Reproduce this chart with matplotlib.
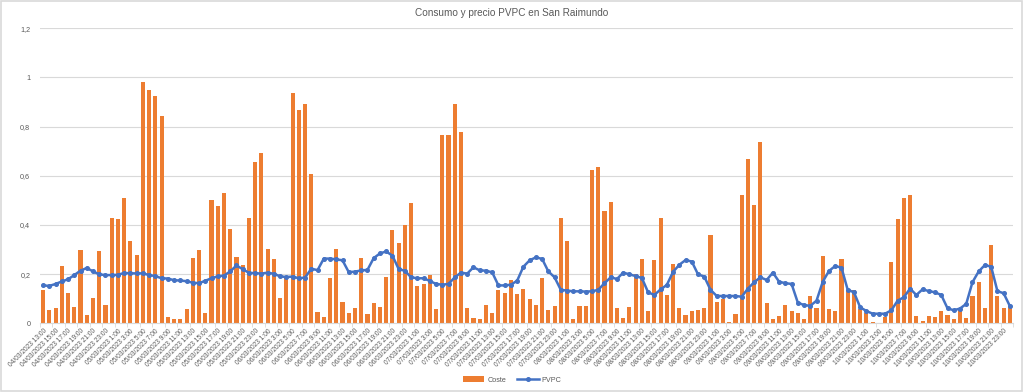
"""Consumo y precio PVPC en San Raimundo: hourly cost bars + PVPC price line."""

import matplotlib

matplotlib.use("Agg")
import matplotlib.pyplot as plt
import numpy as np
import pandas as pd
from matplotlib.patches import Rectangle

# hourly timestamps, 04/03/2023 13:00 -> 11/03/2023 0:00
HOURS = pd.date_range("2023-03-04 13:00", periods=156, freq="h")
LABELS = [f"{d.day:02d}/{d.month:02d}/{d.year} {d.hour}:00" for d in HOURS]

COSTE = [
    0.135, 0.054, 0.061, 0.234, 0.125, 0.066, 0.297, 0.033, 0.103, 0.294,
    0.075, 0.428, 0.424, 0.509, 0.335, 0.279, 0.981, 0.949, 0.924, 0.844,
    0.024, 0.016, 0.016, 0.057, 0.264, 0.298, 0.041, 0.501, 0.477, 0.528,
    0.383, 0.270, 0.237, 0.428, 0.656, 0.692, 0.301, 0.263, 0.102, 0.185,
    0.935, 0.868, 0.890, 0.606, 0.045, 0.026, 0.183, 0.302, 0.085, 0.041,
    0.064, 0.267, 0.038, 0.081, 0.068, 0.187, 0.381, 0.328, 0.398, 0.488,
    0.152, 0.161, 0.198, 0.060, 0.766, 0.764, 0.892, 0.778, 0.062, 0.020,
    0.019, 0.076, 0.041, 0.136, 0.122, 0.177, 0.119, 0.140, 0.099, 0.075,
    0.183, 0.056, 0.072, 0.428, 0.335, 0.018, 0.071, 0.071, 0.623, 0.635,
    0.457, 0.492, 0.064, 0.021, 0.066, 0.200, 0.260, 0.048, 0.256, 0.430,
    0.114, 0.240, 0.061, 0.034, 0.050, 0.054, 0.062, 0.358, 0.087, 0.100,
    0.005, 0.038, 0.522, 0.668, 0.482, 0.736, 0.083, 0.018, 0.030, 0.075,
    0.051, 0.042, 0.019, 0.111, 0.064, 0.272, 0.058, 0.051, 0.262, 0.136,
    0.134, 0.057, 0.041, 0.007, 0.001, 0.026, 0.249, 0.424, 0.511, 0.520,
    0.030, 0.009, 0.028, 0.026, 0.051, 0.033, 0.018, 0.057, 0.023, 0.110,
    0.169, 0.062, 0.318, 0.111, 0.062, 0.065,
]

PVPC = [
    0.154, 0.152, 0.160, 0.170, 0.179, 0.196, 0.214, 0.225, 0.211, 0.199,
    0.196, 0.196, 0.197, 0.205, 0.203, 0.203, 0.203, 0.196, 0.192, 0.183,
    0.182, 0.175, 0.174, 0.171, 0.165, 0.163, 0.173, 0.183, 0.191, 0.194,
    0.211, 0.235, 0.220, 0.205, 0.204, 0.202, 0.206, 0.201, 0.191, 0.188,
    0.190, 0.183, 0.186, 0.222, 0.216, 0.263, 0.263, 0.260, 0.256, 0.208,
    0.210, 0.215, 0.217, 0.265, 0.284, 0.292, 0.275, 0.221, 0.213, 0.187,
    0.183, 0.183, 0.172, 0.160, 0.157, 0.160, 0.187, 0.206, 0.202, 0.228,
    0.215, 0.214, 0.207, 0.154, 0.154, 0.157, 0.173, 0.230, 0.256, 0.268,
    0.262, 0.211, 0.187, 0.136, 0.133, 0.130, 0.130, 0.129, 0.130, 0.136,
    0.163, 0.187, 0.180, 0.206, 0.199, 0.192, 0.184, 0.126, 0.115, 0.138,
    0.156, 0.209, 0.238, 0.257, 0.251, 0.199, 0.190, 0.136, 0.111, 0.111,
    0.111, 0.111, 0.108, 0.141, 0.167, 0.187, 0.176, 0.206, 0.169, 0.163,
    0.160, 0.084, 0.074, 0.071, 0.092, 0.169, 0.213, 0.233, 0.226, 0.136,
    0.126, 0.065, 0.050, 0.039, 0.039, 0.039, 0.053, 0.092, 0.106, 0.141,
    0.115, 0.138, 0.131, 0.126, 0.115, 0.061, 0.053, 0.060, 0.079, 0.167,
    0.211, 0.237, 0.230, 0.131, 0.122, 0.070,
]

Y_TICKS = [0, 0.2, 0.4, 0.6, 0.8, 1.0, 1.2]
Y_TICK_LABELS = ["0", "0,2", "0,4", "0,6", "0,8", "1", "1,2"]

ORANGE = "#ED7D31"
BLUE = "#4472C4"
TXT = "#595959"
GRID = "#D9D9D9"
FONT = ["Liberation Sans", "DejaVu Sans"]


def make_figure(out_path="out.png"):
    plt.rcParams["font.family"] = FONT
    fig = plt.figure(figsize=(10.24, 3.92), dpi=100)
    fig.patches.append(Rectangle((0.001, 0.002), 0.997, 0.996,
                                 transform=fig.transFigure, fill=False,
                                 edgecolor=GRID, linewidth=1.2))
    ax = fig.add_axes((40 / 1024, 1 - 323.3 / 392, 973 / 1024, 295.2 / 392))

    x = np.arange(len(COSTE))
    bars = ax.bar(x, COSTE, width=0.66, color=ORANGE, label="Coste", zorder=2)
    line, = ax.plot(x, PVPC, color=BLUE, linewidth=1.8, marker="o",
                    markersize=2.6, label="PVPC", zorder=3)

    ax.set_xlim(-0.5, len(COSTE) - 0.5)
    ax.set_ylim(0, 1.2)
    ax.set_yticks(Y_TICKS)
    ax.set_yticklabels(Y_TICK_LABELS)
    ax.tick_params(axis="y", length=0, labelsize=5.2, labelcolor=TXT, pad=7)
    ax.grid(True, axis="y", color=GRID, linewidth=0.8, zorder=0)

    ax.set_xticks(x[::2])
    ax.set_xticklabels(LABELS[::2], rotation=45, ha="right",
                       rotation_mode="anchor", fontsize=4.8, color=TXT)
    ax.set_xticks(np.arange(-0.5, len(COSTE), 2), minor=True)
    ax.tick_params(axis="x", which="major", length=0, pad=3)
    ax.tick_params(axis="x", which="minor", length=3, color=GRID, width=0.6)

    for side in ("top", "right", "left"):
        ax.spines[side].set_visible(False)
    ax.spines["bottom"].set_color(GRID)
    ax.spines["bottom"].set_linewidth(0.8)

    fig.text(0.5, 0.968, "Consumo y precio PVPC en San Raimundo",
             ha="center", va="center", fontsize=7.2, color=TXT)
    fig.legend([bars, line], ["Coste", "PVPC"], loc="center",
               bbox_to_anchor=(0.5, 1 - 380 / 392), ncol=2,
               frameon=False, fontsize=5.2, labelcolor=TXT,
               handlelength=3.0, handleheight=0.9, columnspacing=1.5,
               handletextpad=0.4)

    fig.savefig(out_path, dpi=100)
    plt.close(fig)


if __name__ == "__main__":
    make_figure()
